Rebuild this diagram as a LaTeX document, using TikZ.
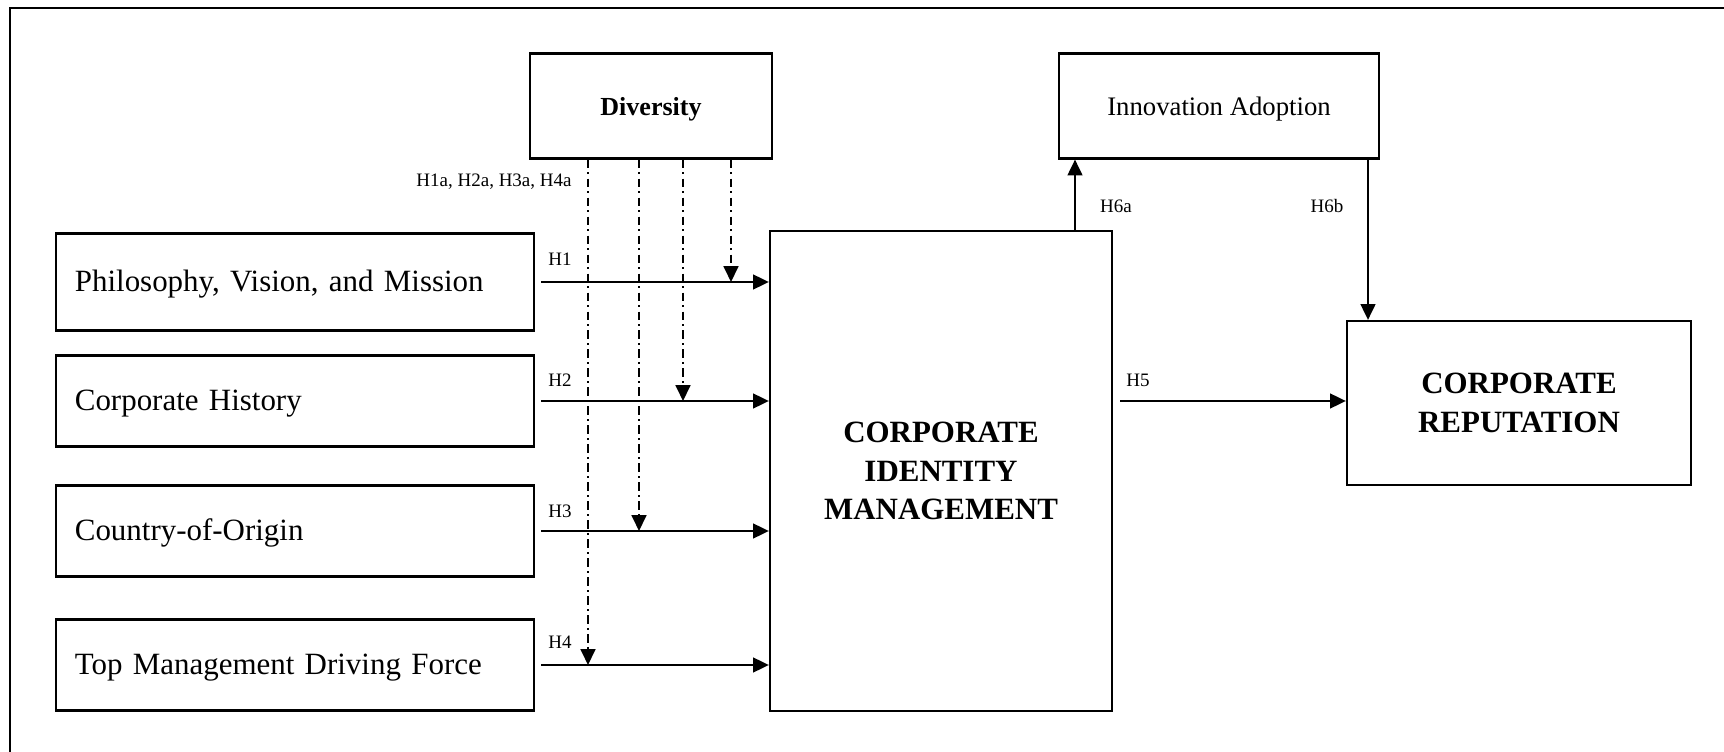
\documentclass[tikz,border=0pt]{standalone}
\usepackage{fontspec}
\setmainfont{Liberation Serif}
\usetikzlibrary{arrows.meta}

\begin{document}
\begin{tikzpicture}[x=0.01cm,y=-0.01cm,
    box/.style={draw,line width=0.6pt,inner sep=0pt},
    side/.style={box,minimum width=4.78cm,minimum height=0.91cm,text width=4.4cm,
      text height=0.56em,text depth=0pt,align=left,font=\fontsize{8.8}{10}\selectfont},
    top/.style={box,minimum height=1.05cm,text height=0.56em,text depth=0pt},
    big/.style={box,align=center,font=\bfseries\fontsize{8.8}{11}\selectfont},
    arr/.style={line width=0.6pt,-{Triangle[length=4.5pt,width=4.2pt]}},
    mod/.style={arr,dash pattern=on 2.4pt off 1.2pt on 0.6pt off 1.2pt},
    hyp/.style={inner sep=0pt,font=\fontsize{5.4}{6}\selectfont}]

      \useasboundingbox (0,0) rectangle (1724,752);
      \draw[line width=0.6pt] (10,752) -- (10,8) -- (1724,8);

      % boxes
      \node[top,minimum width=2.42cm,
        font=\bfseries\fontsize{7.4}{9}\selectfont] (div) at (651,106) {Diversity};
      \node[top,minimum width=3.2cm,
        font=\fontsize{7.6}{9}\selectfont] (inno) at (1219,106) {Innovation Adoption};
      \node[side,minimum height=0.97cm] (phil) at (295,282) {Philosophy, Vision, and Mission};
      \node[side] (hist) at (295,401) {Corporate History};
      \node[side] (coo)  at (295,531) {Country-of-Origin};
      \node[side] (drive) at (295,665) {Top Management Driving Force};
      \node[big,minimum width=3.42cm,minimum height=4.79cm] (cim) at (941,471)
        {CORPORATE\\IDENTITY\\MANAGEMENT};
      \node[big,minimum width=3.44cm,minimum height=1.64cm] (rep) at (1519,403)
        {CORPORATE\\REPUTATION};

      % direct paths
      \draw[arr,shorten <=1.7pt] (phil.east)  -- (phil.east -| cim.west);
      \draw[arr,shorten <=1.7pt] (hist.east)  -- (hist.east -| cim.west);
      \draw[arr,shorten <=1.7pt] (coo.east)   -- (coo.east -| cim.west);
      \draw[arr,shorten <=1.7pt] (drive.east) -- (drive.east -| cim.west);
      \draw[arr,shorten <=2pt] (hist.east -| cim.east) -- (hist.east -| rep.west);

      \coordinate (a6) at (1075,0);
      \coordinate (b6) at (1368,0);
      \draw[arr] (cim.north -| a6) -- (inno.south -| a6);
      \draw[arr] (inno.south -| b6) -- (rep.north -| b6);

      % moderating paths
      \coordinate (m1) at (731,0);
      \coordinate (m2) at (683,0);
      \coordinate (m3) at (639,0);
      \coordinate (m4) at (588,0);
      \draw[mod] (div.south -| m1) -- (phil.east -| m1);
      \draw[mod] (div.south -| m2) -- (hist.east -| m2);
      \draw[mod] (div.south -| m3) -- (coo.east -| m3);
      \draw[mod] (div.south -| m4) -- (drive.east -| m4);

      % labels
      \node[hyp] (hm)  at (494,182)  {H1a, H2a, H3a, H4a};
      \node[hyp] (h1)  at (560,259)  {H1};
      \node[hyp] (h2)  at (560,380)  {H2};
      \node[hyp] (h3)  at (560,511)  {H3};
      \node[hyp] (h4)  at (560,642)  {H4};
      \node[hyp] (h5)  at (1138,380) {H5};
      \node[hyp] (h6a) at (1116,206) {H6a};
      \node[hyp] (h6b) at (1327,206) {H6b};

    \end{tikzpicture}
\end{document}
